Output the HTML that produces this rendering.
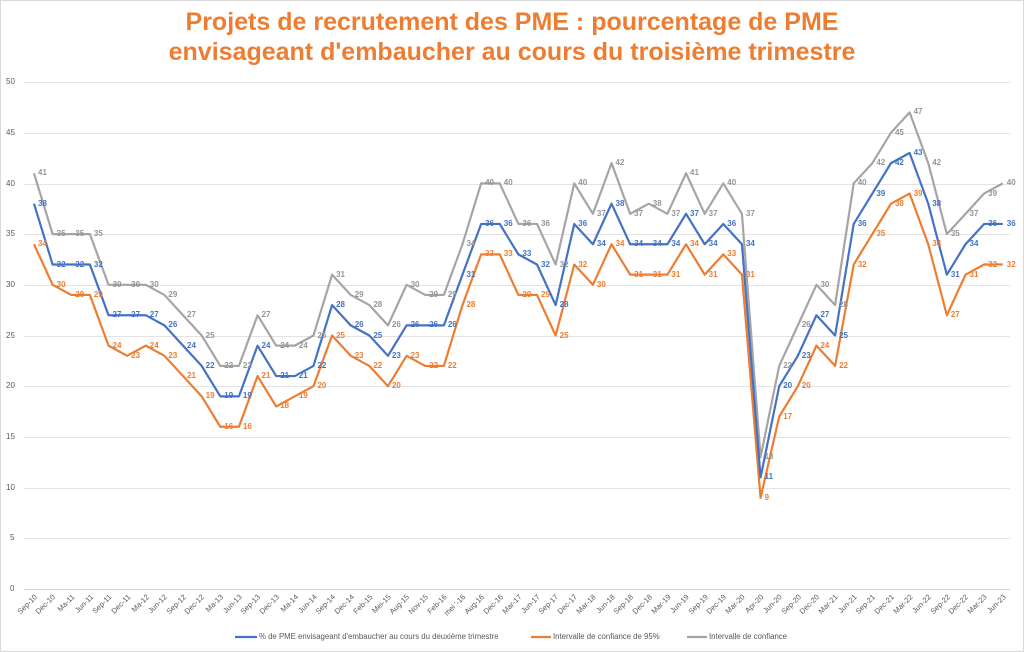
<!DOCTYPE html>
<html><head><meta charset="utf-8"><style>
body{margin:0;width:1024px;height:652px;background:#fff;position:relative;overflow:hidden;font-family:"Liberation Sans",sans-serif}
.frame{position:absolute;left:0;top:0;width:1022px;height:650px;border:1px solid #d9d9d9}
.t{position:absolute;left:0;width:1024px;text-align:center;color:#ED7D31;font-weight:bold;font-size:25px}
svg{position:absolute;left:0;top:0}
.l{position:absolute;font-style:normal;font-size:8px;font-weight:bold;line-height:8px;left:calc(38px + var(--i)*18.63px);top:calc(585px - var(--v)*10.14px)}
.b .l{color:#4472C4}.o .l{color:#ED7D31}.g .l{color:#959595}
.y{position:absolute;left:6px;font-size:8px;color:#595959;line-height:8px}
.x{position:absolute;top:592px;font-size:7.5px;color:#595959;white-space:nowrap;transform:rotate(-45deg);transform-origin:100% 50%;right:calc(988px - var(--i)*18.63px);line-height:8px}
.lg{position:absolute;top:633px;font-size:7.8px;color:#595959;line-height:8px;white-space:nowrap}
</style></head><body>
<div class="frame"></div>
<div class="t" style="top:8px">Projets de recrutement des PME : pourcentage de PME</div>
<div class="t" style="top:38px">envisageant d'embaucher au cours du troisième trimestre</div>
<svg width="1024" height="652">
<g stroke="#e3e3e3" stroke-width="1">
<line x1="24" x2="1010" y1="82.5" y2="82.5"/><line x1="24" x2="1010" y1="133.5" y2="133.5"/><line x1="24" x2="1010" y1="184.5" y2="184.5"/><line x1="24" x2="1010" y1="234.5" y2="234.5"/><line x1="24" x2="1010" y1="285.5" y2="285.5"/><line x1="24" x2="1010" y1="336.5" y2="336.5"/><line x1="24" x2="1010" y1="386.5" y2="386.5"/><line x1="24" x2="1010" y1="437.5" y2="437.5"/><line x1="24" x2="1010" y1="488.5" y2="488.5"/><line x1="24" x2="1010" y1="538.5" y2="538.5"/><line x1="24" x2="1010" y1="589.5" y2="589.5" stroke="#d0d0d0"/>
</g>
<g fill="none" stroke-width="2.2" stroke-linejoin="round" transform="translate(34,589) scale(18.63,-10.14)">
<polyline vector-effect="non-scaling-stroke" stroke="#A5A5A5" points="0,41 1,35 2,35 3,35 4,30 5,30 6,30 7,29 8,27 9,25 10,22 11,22 12,27 13,24 14,24 15,25 16,31 17,29 18,28 19,26 20,30 21,29 22,29 23,34 24,40 25,40 26,36 27,36 28,32 29,40 30,37 31,42 32,37 33,38 34,37 35,41 36,37 37,40 38,37 39,13 40,22 41,26 42,30 43,28 44,40 45,42 46,45 47,47 48,42 49,35 50,37 51,39 52,40"/>
<polyline vector-effect="non-scaling-stroke" stroke="#ED7D31" points="0,34 1,30 2,29 3,29 4,24 5,23 6,24 7,23 8,21 9,19 10,16 11,16 12,21 13,18 14,19 15,20 16,25 17,23 18,22 19,20 20,23 21,22 22,22 23,28 24,33 25,33 26,29 27,29 28,25 29,32 30,30 31,34 32,31 33,31 34,31 35,34 36,31 37,33 38,31 39,9 40,17 41,20 42,24 43,22 44,32 45,35 46,38 47,39 48,34 49,27 50,31 51,32 52,32"/>
<polyline vector-effect="non-scaling-stroke" stroke="#4472C4" points="0,38 1,32 2,32 3,32 4,27 5,27 6,27 7,26 8,24 9,22 10,19 11,19 12,24 13,21 14,21 15,22 16,28 17,26 18,25 19,23 20,26 21,26 22,26 23,31 24,36 25,36 26,33 27,32 28,28 29,36 30,34 31,38 32,34 33,34 34,34 35,37 36,34 37,36 38,34 39,11 40,20 41,23 42,27 43,25 44,36 45,39 46,42 47,43 48,38 49,31 50,34 51,36 52,36"/>
</g>
<line x1="235" x2="257" y1="637" y2="637" stroke="#4472C4" stroke-width="2.2"/>
<line x1="531" x2="551" y1="637" y2="637" stroke="#ED7D31" stroke-width="2.2"/>
<line x1="687" x2="707" y1="637" y2="637" stroke="#A5A5A5" stroke-width="2.2"/>
</svg>
<div class="y" style="top:78px">50</div><div class="y" style="top:129px">45</div><div class="y" style="top:180px">40</div><div class="y" style="top:230px">35</div><div class="y" style="top:281px">30</div><div class="y" style="top:332px">25</div><div class="y" style="top:382px">20</div><div class="y" style="top:433px">15</div><div class="y" style="top:484px">10</div><div class="y" style="top:534px;left:10px">5</div><div class="y" style="top:585px;left:10px">0</div>
<div class="g">
<i class="l" style="--i:0;--v:41">41</i><i class="l" style="--i:1;--v:35">35</i><i class="l" style="--i:2;--v:35">35</i><i class="l" style="--i:3;--v:35">35</i><i class="l" style="--i:4;--v:30">30</i><i class="l" style="--i:5;--v:30">30</i><i class="l" style="--i:6;--v:30">30</i><i class="l" style="--i:7;--v:29">29</i><i class="l" style="--i:8;--v:27">27</i><i class="l" style="--i:9;--v:25">25</i><i class="l" style="--i:10;--v:22">22</i><i class="l" style="--i:11;--v:22">22</i><i class="l" style="--i:12;--v:27">27</i><i class="l" style="--i:13;--v:24">24</i><i class="l" style="--i:14;--v:24">24</i><i class="l" style="--i:15;--v:25">25</i><i class="l" style="--i:16;--v:31">31</i><i class="l" style="--i:17;--v:29">29</i><i class="l" style="--i:18;--v:28">28</i><i class="l" style="--i:19;--v:26">26</i><i class="l" style="--i:20;--v:30">30</i><i class="l" style="--i:21;--v:29">29</i><i class="l" style="--i:22;--v:29">29</i><i class="l" style="--i:23;--v:34">34</i><i class="l" style="--i:24;--v:40">40</i><i class="l" style="--i:25;--v:40">40</i><i class="l" style="--i:26;--v:36">36</i><i class="l" style="--i:27;--v:36">36</i><i class="l" style="--i:28;--v:32">32</i><i class="l" style="--i:29;--v:40">40</i><i class="l" style="--i:30;--v:37">37</i><i class="l" style="--i:31;--v:42">42</i><i class="l" style="--i:32;--v:37">37</i><i class="l" style="--i:33;--v:38">38</i><i class="l" style="--i:34;--v:37">37</i><i class="l" style="--i:35;--v:41">41</i><i class="l" style="--i:36;--v:37">37</i><i class="l" style="--i:37;--v:40">40</i><i class="l" style="--i:38;--v:37">37</i><i class="l" style="--i:39;--v:13">13</i><i class="l" style="--i:40;--v:22">22</i><i class="l" style="--i:41;--v:26">26</i><i class="l" style="--i:42;--v:30">30</i><i class="l" style="--i:43;--v:28">28</i><i class="l" style="--i:44;--v:40">40</i><i class="l" style="--i:45;--v:42">42</i><i class="l" style="--i:46;--v:45">45</i><i class="l" style="--i:47;--v:47">47</i><i class="l" style="--i:48;--v:42">42</i><i class="l" style="--i:49;--v:35">35</i><i class="l" style="--i:50;--v:37">37</i><i class="l" style="--i:51;--v:39">39</i><i class="l" style="--i:52;--v:40">40</i>
</div>
<div class="o">
<i class="l" style="--i:0;--v:34">34</i><i class="l" style="--i:1;--v:30">30</i><i class="l" style="--i:2;--v:29">29</i><i class="l" style="--i:3;--v:29">29</i><i class="l" style="--i:4;--v:24">24</i><i class="l" style="--i:5;--v:23">23</i><i class="l" style="--i:6;--v:24">24</i><i class="l" style="--i:7;--v:23">23</i><i class="l" style="--i:8;--v:21">21</i><i class="l" style="--i:9;--v:19">19</i><i class="l" style="--i:10;--v:16">16</i><i class="l" style="--i:11;--v:16">16</i><i class="l" style="--i:12;--v:21">21</i><i class="l" style="--i:13;--v:18">18</i><i class="l" style="--i:14;--v:19">19</i><i class="l" style="--i:15;--v:20">20</i><i class="l" style="--i:16;--v:25">25</i><i class="l" style="--i:17;--v:23">23</i><i class="l" style="--i:18;--v:22">22</i><i class="l" style="--i:19;--v:20">20</i><i class="l" style="--i:20;--v:23">23</i><i class="l" style="--i:21;--v:22">22</i><i class="l" style="--i:22;--v:22">22</i><i class="l" style="--i:23;--v:28">28</i><i class="l" style="--i:24;--v:33">33</i><i class="l" style="--i:25;--v:33">33</i><i class="l" style="--i:26;--v:29">29</i><i class="l" style="--i:27;--v:29">29</i><i class="l" style="--i:28;--v:25">25</i><i class="l" style="--i:29;--v:32">32</i><i class="l" style="--i:30;--v:30">30</i><i class="l" style="--i:31;--v:34">34</i><i class="l" style="--i:32;--v:31">31</i><i class="l" style="--i:33;--v:31">31</i><i class="l" style="--i:34;--v:31">31</i><i class="l" style="--i:35;--v:34">34</i><i class="l" style="--i:36;--v:31">31</i><i class="l" style="--i:37;--v:33">33</i><i class="l" style="--i:38;--v:31">31</i><i class="l" style="--i:39;--v:9">9</i><i class="l" style="--i:40;--v:17">17</i><i class="l" style="--i:41;--v:20">20</i><i class="l" style="--i:42;--v:24">24</i><i class="l" style="--i:43;--v:22">22</i><i class="l" style="--i:44;--v:32">32</i><i class="l" style="--i:45;--v:35">35</i><i class="l" style="--i:46;--v:38">38</i><i class="l" style="--i:47;--v:39">39</i><i class="l" style="--i:48;--v:34">34</i><i class="l" style="--i:49;--v:27">27</i><i class="l" style="--i:50;--v:31">31</i><i class="l" style="--i:51;--v:32">32</i><i class="l" style="--i:52;--v:32">32</i>
</div>
<div class="b">
<i class="l" style="--i:0;--v:38">38</i><i class="l" style="--i:1;--v:32">32</i><i class="l" style="--i:2;--v:32">32</i><i class="l" style="--i:3;--v:32">32</i><i class="l" style="--i:4;--v:27">27</i><i class="l" style="--i:5;--v:27">27</i><i class="l" style="--i:6;--v:27">27</i><i class="l" style="--i:7;--v:26">26</i><i class="l" style="--i:8;--v:24">24</i><i class="l" style="--i:9;--v:22">22</i><i class="l" style="--i:10;--v:19">19</i><i class="l" style="--i:11;--v:19">19</i><i class="l" style="--i:12;--v:24">24</i><i class="l" style="--i:13;--v:21">21</i><i class="l" style="--i:14;--v:21">21</i><i class="l" style="--i:15;--v:22">22</i><i class="l" style="--i:16;--v:28">28</i><i class="l" style="--i:17;--v:26">26</i><i class="l" style="--i:18;--v:25">25</i><i class="l" style="--i:19;--v:23">23</i><i class="l" style="--i:20;--v:26">26</i><i class="l" style="--i:21;--v:26">26</i><i class="l" style="--i:22;--v:26">26</i><i class="l" style="--i:23;--v:31">31</i><i class="l" style="--i:24;--v:36">36</i><i class="l" style="--i:25;--v:36">36</i><i class="l" style="--i:26;--v:33">33</i><i class="l" style="--i:27;--v:32">32</i><i class="l" style="--i:28;--v:28">28</i><i class="l" style="--i:29;--v:36">36</i><i class="l" style="--i:30;--v:34">34</i><i class="l" style="--i:31;--v:38">38</i><i class="l" style="--i:32;--v:34">34</i><i class="l" style="--i:33;--v:34">34</i><i class="l" style="--i:34;--v:34">34</i><i class="l" style="--i:35;--v:37">37</i><i class="l" style="--i:36;--v:34">34</i><i class="l" style="--i:37;--v:36">36</i><i class="l" style="--i:38;--v:34">34</i><i class="l" style="--i:39;--v:11">11</i><i class="l" style="--i:40;--v:20">20</i><i class="l" style="--i:41;--v:23">23</i><i class="l" style="--i:42;--v:27">27</i><i class="l" style="--i:43;--v:25">25</i><i class="l" style="--i:44;--v:36">36</i><i class="l" style="--i:45;--v:39">39</i><i class="l" style="--i:46;--v:42">42</i><i class="l" style="--i:47;--v:43">43</i><i class="l" style="--i:48;--v:38">38</i><i class="l" style="--i:49;--v:31">31</i><i class="l" style="--i:50;--v:34">34</i><i class="l" style="--i:51;--v:36">36</i><i class="l" style="--i:52;--v:36">36</i>
</div>
<span class="x" style="--i:0">Sep-10</span><span class="x" style="--i:1">Dec-10</span><span class="x" style="--i:2">Ma-11</span><span class="x" style="--i:3">Jun-11</span><span class="x" style="--i:4">Sep-11</span><span class="x" style="--i:5">Dec-11</span><span class="x" style="--i:6">Ma-12</span><span class="x" style="--i:7">Jun-12</span><span class="x" style="--i:8">Sep-12</span><span class="x" style="--i:9">Dec-12</span><span class="x" style="--i:10">Ma-13</span><span class="x" style="--i:11">Jun-13</span><span class="x" style="--i:12">Sep-13</span><span class="x" style="--i:13">Dec-13</span><span class="x" style="--i:14">Ma-14</span><span class="x" style="--i:15">Jun-14</span><span class="x" style="--i:16">Sep-14</span><span class="x" style="--i:17">Dec-14</span><span class="x" style="--i:18">Feb-15</span><span class="x" style="--i:19">Mei-15</span><span class="x" style="--i:20">Aug-15</span><span class="x" style="--i:21">Nov-15</span><span class="x" style="--i:22">Feb-16</span><span class="x" style="--i:23">mei '-16</span><span class="x" style="--i:24">Aug-16</span><span class="x" style="--i:25">Dec-16</span><span class="x" style="--i:26">Mar-17</span><span class="x" style="--i:27">Jun-17</span><span class="x" style="--i:28">Sep-17</span><span class="x" style="--i:29">Dec-17</span><span class="x" style="--i:30">Mar-18</span><span class="x" style="--i:31">Jun-18</span><span class="x" style="--i:32">Sep-18</span><span class="x" style="--i:33">Dec-18</span><span class="x" style="--i:34">Mar-19</span><span class="x" style="--i:35">Jun-19</span><span class="x" style="--i:36">Sep-19</span><span class="x" style="--i:37">Dec-19</span><span class="x" style="--i:38">Mar-20</span><span class="x" style="--i:39">Apr-20</span><span class="x" style="--i:40">Jun-20</span><span class="x" style="--i:41">Sep-20</span><span class="x" style="--i:42">Dec-20</span><span class="x" style="--i:43">Mar-21</span><span class="x" style="--i:44">Jun-21</span><span class="x" style="--i:45">Sep-21</span><span class="x" style="--i:46">Dec-21</span><span class="x" style="--i:47">Mar-22</span><span class="x" style="--i:48">Jun-22</span><span class="x" style="--i:49">Sep-22</span><span class="x" style="--i:50">Dec-22</span><span class="x" style="--i:51">Mar-23</span><span class="x" style="--i:52">Jun-23</span>
<div class="lg" style="left:259px">% de PME envisageant d'embaucher au cours du deuxième trimestre</div>
<div class="lg" style="left:553px">Intervalle de confiance de 95%</div>
<div class="lg" style="left:709px">Intervalle de confiance</div>
</body></html>
